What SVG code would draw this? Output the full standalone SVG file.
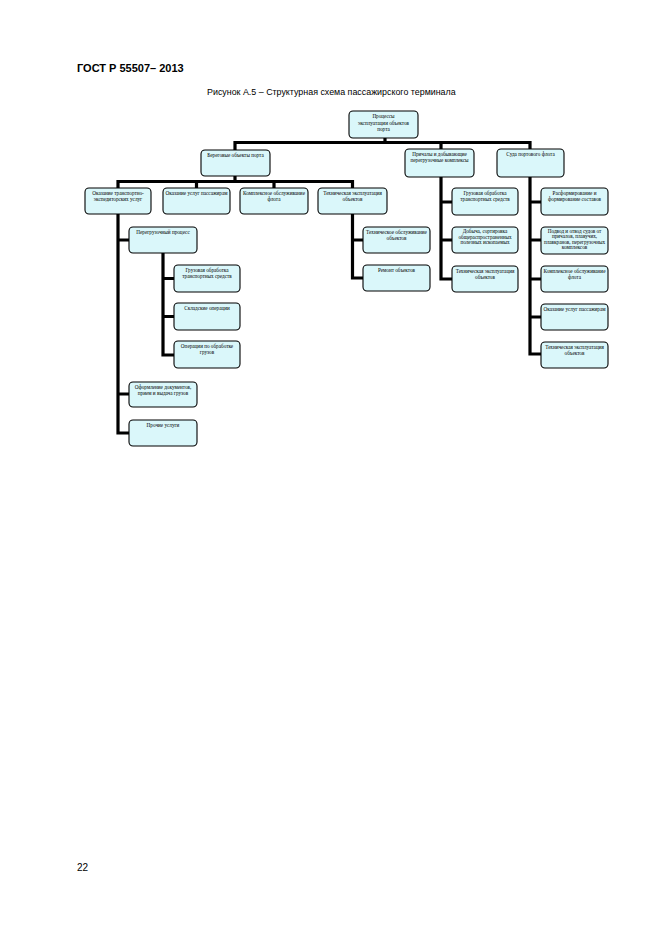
<svg xmlns="http://www.w3.org/2000/svg" width="661" height="935" viewBox="0 0 661 935">
<style>
.bg{fill:#ffffff}
.box{fill:#daf7fa;stroke:#000;stroke-width:1.1}
.t{font-family:"Liberation Serif","Times New Roman",serif;font-size:5.2px;fill:#000;text-anchor:middle}
.conn{fill:none;stroke:#000;stroke-width:3.2;stroke-linecap:square}
.hdr{font-family:"Liberation Sans",Arial,sans-serif;fill:#000}
</style>
<rect class="bg" x="0" y="0" width="661" height="935"/>
<text class="hdr" x="77" y="72" font-size="11" font-weight="bold">ГОСТ Р 55507– 2013</text>
<text class="hdr" x="207" y="95" font-size="8.9">Рисунок А.5 – Структурная схема пассажирского терминала</text>
<text class="hdr" x="77" y="871" font-size="10">22</text>

<g id="connectors">
<path class="conn" d="M385,138 V142.5 M235,142.5 H530 M235,142.5 V150 M441,142.5 V149 M530,142.5 V149"/>
<path class="conn" d="M235,176 V181.5 M118,181.5 H352.5 M118,181.5 V188 M196.5,181.5 V188 M274,181.5 V188 M352.5,181.5 V188"/>
<path class="conn" d="M118,214 V433 M118,240 H129 M118,394 H129 M118,433 H129"/>
<path class="conn" d="M163,253 V355 M163,278.5 H174 M163,316.5 H174 M163,355 H174"/>
<path class="conn" d="M352.5,214 V278 M352.5,240 H363 M352.5,278 H363"/>
<path class="conn" d="M441,177 V279 M441,202 H452 M441,240 H452 M441,279 H452"/>
<path class="conn" d="M530,177 V354 M530,202 H541 M530,240 H541 M530,279 H541 M530,317 H541 M530,354 H541"/>
</g>

<g id="root">
<rect class="box" x="349" y="111" width="69" height="27" rx="4"/>
<text class="t" x="383.5" y="118">Процессы</text>
<text class="t" x="383.5" y="124.5">эксплуатации объектов</text>
<text class="t" x="383.5" y="131">порта</text>
</g>

<g id="beregovye">
<rect class="box" x="201" y="150" width="69" height="26" rx="4"/>
<text class="t" x="235.5" y="156.5">Береговые объекты порта</text>
</g>
<g id="prichaly">
<rect class="box" x="405" y="149" width="69" height="28" rx="4"/>
<text class="t" x="439.5" y="155.5">Причалы и добывающие</text>
<text class="t" x="439.5" y="161.5">перегрузочные комплексы</text>
</g>
<g id="suda">
<rect class="box" x="497" y="149" width="67" height="28" rx="4"/>
<text class="t" x="530.5" y="155.5">Суда портового флота</text>
</g>

<g id="transport-eksped">
<rect class="box" x="85" y="188" width="66" height="26" rx="4"/>
<text class="t" x="118" y="194.5">Оказание транспортно-</text>
<text class="t" x="118" y="200.5">экспедиторских услуг</text>
</g>
<g id="uslugi-pass-1">
<rect class="box" x="163" y="188" width="67" height="26" rx="4"/>
<text class="t" x="196.5" y="194.5">Оказание услуг пассажирам</text>
</g>
<g id="kompl-obsl-1">
<rect class="box" x="240" y="188" width="68" height="26" rx="4"/>
<text class="t" x="274" y="194.5">Комплексное обслуживание</text>
<text class="t" x="274" y="200.5">флота</text>
</g>
<g id="tech-expl-1">
<rect class="box" x="318" y="188" width="69" height="26" rx="4"/>
<text class="t" x="352.5" y="194.5">Техническая эксплуатация</text>
<text class="t" x="352.5" y="200.5">объектов</text>
</g>

<g id="peregruz">
<rect class="box" x="129" y="227" width="68" height="26" rx="4"/>
<text class="t" x="163" y="233.5">Перегрузочный процесс</text>
</g>
<g id="gruz-obr-1">
<rect class="box" x="174" y="265" width="66" height="27" rx="4"/>
<text class="t" x="207" y="271.5">Грузовая обработка</text>
<text class="t" x="207" y="277.5">транспортных средств</text>
</g>
<g id="sklad">
<rect class="box" x="174" y="303" width="66" height="27" rx="4"/>
<text class="t" x="207" y="309.5">Складские операции</text>
</g>
<g id="oper-gruz">
<rect class="box" x="174" y="341" width="66" height="27" rx="4"/>
<text class="t" x="207" y="347.5">Операции по обработке</text>
<text class="t" x="207" y="353.5">грузов</text>
</g>
<g id="oformlenie">
<rect class="box" x="129" y="382" width="68" height="25" rx="4"/>
<text class="t" x="163" y="388.5">Оформление документов,</text>
<text class="t" x="163" y="394.5">прием и выдача грузов</text>
</g>
<g id="prochie">
<rect class="box" x="129" y="420" width="68" height="26" rx="4"/>
<text class="t" x="163" y="426.5">Прочие услуги</text>
</g>

<g id="tech-obsl">
<rect class="box" x="363" y="227" width="67" height="26" rx="4"/>
<text class="t" x="396.5" y="233.5">Техническое обслуживание</text>
<text class="t" x="396.5" y="239.5">объектов</text>
</g>
<g id="remont">
<rect class="box" x="363" y="265" width="67" height="26" rx="4"/>
<text class="t" x="396.5" y="271.5">Ремонт объектов</text>
</g>

<g id="gruz-obr-2">
<rect class="box" x="452" y="188" width="66" height="27" rx="4"/>
<text class="t" x="485" y="194.5">Грузовая обработка</text>
<text class="t" x="485" y="200.5">транспортных средств</text>
</g>
<g id="dobycha">
<rect class="box" x="452" y="227" width="66" height="26" rx="4"/>
<text class="t" x="485" y="233">Добыча, сортировка</text>
<text class="t" x="485" y="238.5">общераспространенных</text>
<text class="t" x="485" y="244">полезных ископаемых</text>
</g>
<g id="tech-expl-2">
<rect class="box" x="452" y="266" width="66" height="26" rx="4"/>
<text class="t" x="485" y="272.5">Техническая эксплуатация</text>
<text class="t" x="485" y="278.5">объектов</text>
</g>

<g id="rasform">
<rect class="box" x="541" y="188" width="67" height="27" rx="4"/>
<text class="t" x="574.5" y="194.5">Расформирование и</text>
<text class="t" x="574.5" y="200.5">формирование составов</text>
</g>
<g id="podvod">
<rect class="box" x="541" y="227" width="67" height="27" rx="4"/>
<text class="t" x="574.5" y="232.5">Подвод и отвод судов от</text>
<text class="t" x="574.5" y="238">причалов, плавучих,</text>
<text class="t" x="574.5" y="243.5">плавкранов, перегрузочных</text>
<text class="t" x="574.5" y="249">комплексов</text>
</g>
<g id="kompl-obsl-2">
<rect class="box" x="541" y="266" width="67" height="26" rx="4"/>
<text class="t" x="574.5" y="272.5">Комплексное обслуживание</text>
<text class="t" x="574.5" y="278.5">флота</text>
</g>
<g id="uslugi-pass-2">
<rect class="box" x="541" y="304" width="67" height="26" rx="4"/>
<text class="t" x="574.5" y="310.5">Оказание услуг пассажирам</text>
</g>
<g id="tech-expl-3">
<rect class="box" x="541" y="342" width="67" height="26" rx="4"/>
<text class="t" x="574.5" y="348.5">Техническая эксплуатация</text>
<text class="t" x="574.5" y="354.5">объектов</text>
</g>
</svg>
